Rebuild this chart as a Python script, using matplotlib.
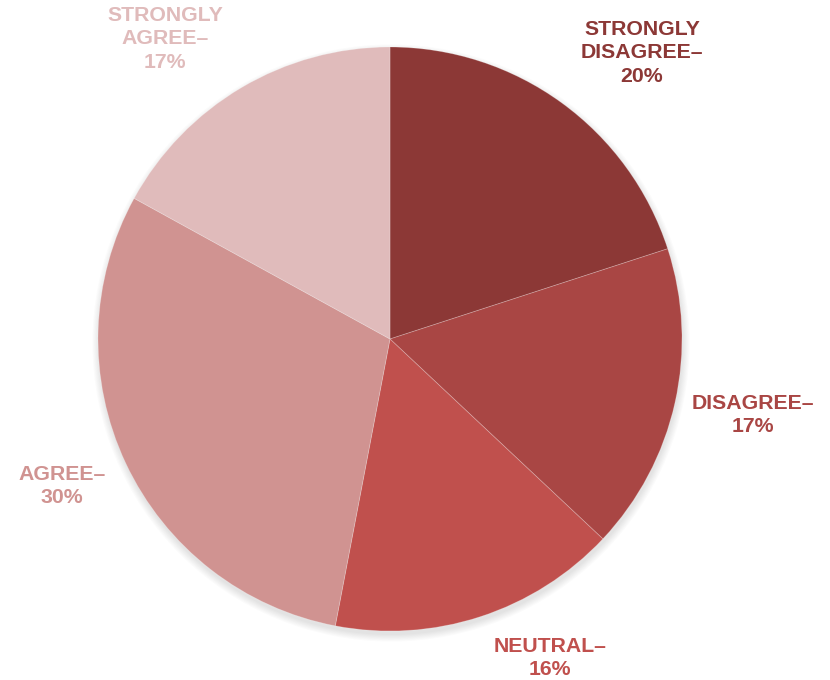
import matplotlib
matplotlib.use('Agg')
import matplotlib.pyplot as plt
from matplotlib.patches import Circle

plt.rcParams['font.family'] = ['Liberation Sans', 'DejaVu Sans']

# Survey responses
labels = ['STRONGLY\nDISAGREE–', 'DISAGREE–', 'NEUTRAL–', 'AGREE–', 'STRONGLY\nAGREE–']
shares = [20, 17, 16, 30, 17]
colors = ['#8c3836', '#a94644', '#c0504d', '#d09391', '#e0bbbb']
# label anchor points (pixel space, y from bottom)
label_xy = [(642, 627), (753, 265), (550, 22), (62, 194), (165, 641)]

fig = plt.figure(figsize=(8.3, 6.8), dpi=100)
ax = fig.add_axes([0, 0, 1, 1])

cx, cy, r = 390, 341, 292

# soft shadow under the pie, mostly below
for i in range(7):
    ax.add_patch(Circle((cx + 1, cy - 4), r + i * 1.1, color='black',
                        alpha=0.016, lw=0, zorder=0))

wedges, _ = ax.pie(shares, colors=colors, startangle=90, counterclock=False,
                   center=(cx, cy), radius=r, frame=True,
                   wedgeprops=dict(linewidth=0.6, edgecolor='#ffffff40'))
for w in wedges:
    w.set_zorder(2)
ax.set_xlim(0, 830)
ax.set_ylim(0, 680)
ax.set_aspect('equal')
ax.axis('off')

for lab, val, col, (x, y) in zip(labels, shares, colors, label_xy):
    ax.text(x, y, f'{lab}\n{val}%', ha='center', va='center', color=col,
            fontsize=15.3, fontweight='bold', linespacing=1.27, zorder=3)

fig.savefig('out.png', dpi=100, facecolor='white')
